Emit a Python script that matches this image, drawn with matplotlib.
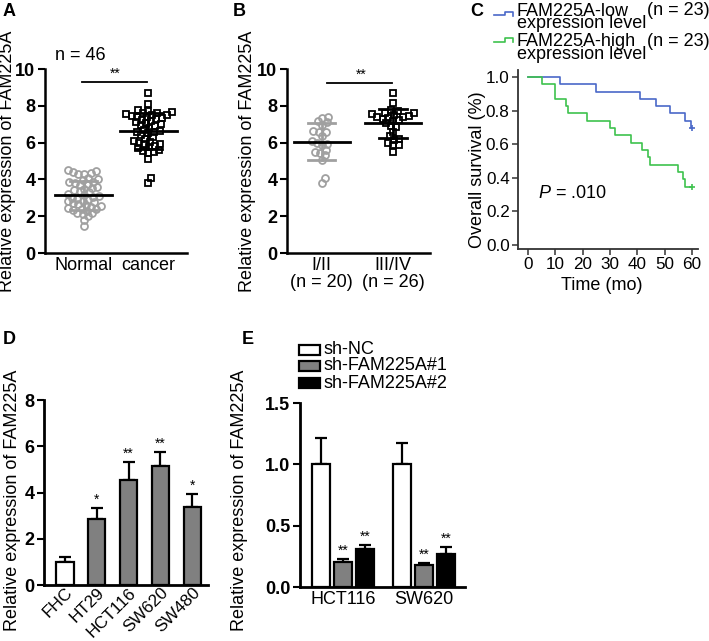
import numpy as np
import matplotlib
matplotlib.use('Agg')
import matplotlib.pyplot as plt
from matplotlib.lines import Line2D
from matplotlib.patches import Rectangle

plt.rcParams['font.family'] = ['Liberation Sans', 'DejaVu Sans']
plt.rcParams['mathtext.fontset'] = 'custom'
plt.rcParams['mathtext.it'] = 'Liberation Sans:italic'
plt.rcParams['mathtext.rm'] = 'Liberation Sans'

# ---- data ----
# A: tissue expression (n = 46 each)
normal_vals = [4.5, 4.48, 4.4, 4.35, 4.3, 4.28, 4.1, 4.0, 3.95, 3.85, 3.85, 3.8,
               3.75, 3.7, 3.6, 3.55, 3.5, 3.4, 3.35, 3.3, 3.2, 3.15, 3.1, 3.05,
               3.0, 2.95, 2.9, 2.85, 2.8, 2.75, 2.7, 2.65, 2.6, 2.55, 2.5, 2.45,
               2.4, 2.4, 2.35, 2.3, 2.2, 2.15, 2.1, 2.0, 1.8, 1.45]
cancer_vals = [8.7, 8.1, 7.75, 7.7, 7.65, 7.6, 7.6, 7.55, 7.5, 7.5, 7.45, 7.4,
               7.4, 7.35, 7.3, 7.25, 7.2, 7.1, 7.05, 7.0, 6.95, 6.9, 6.8, 6.7,
               6.65, 6.6, 6.6, 6.5, 6.4, 6.3, 6.2, 6.1, 6.05, 6.0, 5.95, 5.9,
               5.8, 5.75, 5.7, 5.6, 5.55, 5.5, 5.45, 5.1, 4.05, 3.8]
a_labels = ['Normal', 'cancer']

# B: by TNM stage
stage12_vals = [7.4, 7.35, 7.15, 7.1, 6.95, 6.65, 6.6, 6.55, 6.35, 6.1, 6.0, 5.95,
                5.85, 5.6, 5.5, 5.45, 5.3, 5.05, 4.05, 3.8]
stage34_vals = [8.7, 8.15, 7.75, 7.7, 7.6, 7.6, 7.55, 7.5, 7.45, 7.4, 7.4, 7.35,
                7.3, 7.25, 7.2, 7.05, 6.9, 6.85, 6.6, 6.35, 6.2, 6.15, 6.0, 5.85,
                5.85, 5.5]
b_labels = ['I/II\n(n = 20)', 'III/IV\n(n = 26)']

# C: Kaplan-Meier steps
low_t = [0, 11.8, 24.9, 40.9, 47, 51.8, 57.5, 59.6, 60]
low_s = [1.0, 0.957, 0.913, 0.870, 0.826, 0.783, 0.739, 0.696, 0.696]
high_t = [0, 5.1, 10, 14, 14.6, 21.6, 30, 31.7, 37.8, 41.7, 43.8, 44.5, 54.8,
          56.6, 57.3, 60]
high_s = [1.0, 0.957, 0.870, 0.826, 0.783, 0.739, 0.696, 0.652, 0.609, 0.565,
          0.522, 0.478, 0.435, 0.391, 0.348, 0.348]
c_legend = ['FAM225A-low\nexpression level', 'FAM225A-high\nexpression level']

# D: cell lines
d_cells = ['FHC', 'HT29', 'HCT116', 'SW620', 'SW480']
d_vals = [1.0, 2.86, 4.55, 5.13, 3.37]
d_err = [0.19, 0.46, 0.77, 0.62, 0.56]
d_sig = ['', '*', '**', '**', '*']

# E: knockdown
e_cells = ['HCT116', 'SW620']
e_groups = ['sh-NC', 'sh-FAM225A#1', 'sh-FAM225A#2']
e_vals = [[1.0, 1.0], [0.2, 0.177], [0.307, 0.272]]
e_err = [[0.215, 0.17], [0.028, 0.021], [0.035, 0.054]]
e_sig = [['', ''], ['**', '**'], ['**', '**']]
e_colors = ['white', '#808080', 'black']

W, H = 709, 641
FS = 13
TFS = 13


def rect(l, t, r, b):
    return [l / W, 1 - b / H, (r - l) / W, (b - t) / H]


def swarm(vals, ppu_y, ppu_x, d):
    # beeswarm offsets, worked out in pixels
    vals = np.asarray(vals, dtype=float)
    ys = vals * ppu_y
    xs = np.zeros(len(vals))
    done = []
    for i in np.argsort(vals):
        y = ys[i]
        cands = [0.0]
        for j in done:
            dy = y - ys[j]
            if abs(dy) < d:
                dx = np.sqrt(d * d - dy * dy)
                cands += [xs[j] + dx, xs[j] - dx]
        cands.sort(key=abs)
        for c in cands:
            if all((c - xs[j]) ** 2 + (y - ys[j]) ** 2 >= d * d - 1e-6 for j in done):
                xs[i] = c
                break
        done.append(i)
    return xs / ppu_x


def prism_axes(ax, lw=1.8):
    for s in ['top', 'right']:
        ax.spines[s].set_visible(False)
    for s in ['left', 'bottom']:
        ax.spines[s].set_linewidth(lw)
    ax.tick_params(axis='y', direction='out', length=5, width=1.5, labelsize=TFS, pad=2)
    ax.tick_params(axis='x', length=0, labelsize=FS, pad=3)
    for t in ax.get_yticklabels():
        t.set_fontweight('bold')


def dot_group(ax, x0, vals, color, marker, ppu_y, ppu_x, mean_w, cap_w, sd_color):
    off = swarm(vals, ppu_y, ppu_x, 5.6)
    ax.plot(x0 + off, vals, ls='none', marker=marker, ms=5, mfc='none', mec=color,
            mew=1.3, zorder=3, clip_on=False)
    m = np.mean(vals)
    s = np.std(vals, ddof=1)
    ax.plot([x0, x0], [m - s, m + s], color=sd_color, lw=2, zorder=4)
    ax.plot([x0 - cap_w / 2, x0 + cap_w / 2], [m - s, m - s], color=sd_color, lw=2, zorder=4)
    ax.plot([x0 - cap_w / 2, x0 + cap_w / 2], [m + s, m + s], color=sd_color, lw=2, zorder=4)
    ax.plot([x0 - mean_w / 2, x0 + mean_w / 2], [m, m], color='black', lw=2, zorder=5)


fig = plt.figure(figsize=(W / 100, H / 100), dpi=100)

# ---- A ----
axA = fig.add_axes(rect(45, 69, 187, 253))
axA.set_xlim(-0.6, 1.6)
axA.set_ylim(0, 10)
ppy = 184 / 10
ppx = 142 / 2.2
dot_group(axA, 0, normal_vals, '#a0a0a0', 'o', ppy, ppx, 0.88, 0.42, '#a0a0a0')
dot_group(axA, 1, cancer_vals, 'black', 's', ppy, ppx, 0.88, 0.42, 'black')
axA.plot([-0.02, 0.98], [9.3, 9.3], color='black', lw=1.3)
axA.text(0.48, 9.35, '**', ha='center', va='bottom', fontsize=10)
axA.set_yticks([0, 2, 4, 6, 8, 10])
axA.set_xticks([0, 1])
axA.set_xticklabels(a_labels)
prism_axes(axA)

# ---- B ----
axB = fig.add_axes(rect(287, 69, 430, 253))
axB.set_xlim(-0.49, 1.52)
axB.set_ylim(0, 10)
ppx = 143 / 2.01
dot_group(axB, 0, stage12_vals, '#a0a0a0', 'o', ppy, ppx, 0.79, 0.38, '#a0a0a0')
dot_group(axB, 1, stage34_vals, 'black', 's', ppy, ppx, 0.79, 0.38, 'black')
axB.plot([0.07, 0.99], [9.24, 9.24], color='black', lw=1.3)
axB.text(0.56, 9.29, '**', ha='center', va='bottom', fontsize=10)
axB.set_yticks([0, 2, 4, 6, 8, 10])
axB.set_xticks([0, 1])
axB.set_xticklabels(b_labels, linespacing=1.0)
prism_axes(axB)

# ---- C ----
axC = fig.add_axes(rect(518, 70, 698, 249))
axC.set_xlim(-3.66, 62.2)
axC.set_ylim(-0.024, 1.042)
axC.step(low_t, low_s, where='post', color='#4a68c8', lw=1.2)
axC.step(high_t, high_s, where='post', color='#3ec24e', lw=1.2)
axC.plot(low_t[-1], low_s[-1], marker='+', color='#4a68c8', ms=5, mew=1.2)
axC.plot(high_t[-1], high_s[-1], marker='+', color='#3ec24e', ms=5, mew=1.2)
for s in ['top', 'right']:
    axC.spines[s].set_visible(False)
for s in ['left', 'bottom']:
    axC.spines[s].set_linewidth(1.3)
    axC.spines[s].set_color('#333333')
axC.set_xticks(range(0, 61, 10))
axC.set_yticks([0, 0.2, 0.4, 0.6, 0.8, 1.0])
axC.set_yticklabels(['0.0', '0.2', '0.4', '0.6', '0.8', '1.0'])
axC.tick_params(direction='out', length=4, width=1.1, color='#333333', labelsize=12.3, pad=2)

# ---- D ----
axD = fig.add_axes(rect(44, 400, 208, 585))
xd = np.arange(len(d_cells))
axD.bar(xd, d_vals, width=0.54, color=['white'] + ['#808080'] * 4,
        edgecolor='black', linewidth=1.6, zorder=3)
axD.errorbar(xd, d_vals, yerr=[np.zeros(len(xd)), d_err], fmt='none', ecolor='black',
             elinewidth=1.6, capsize=4, capthick=1.6, zorder=2)
for x, v, e, sg in zip(xd, d_vals, d_err, d_sig):
    if sg:
        axD.annotate(sg, (x, v + e), xytext=(0, 1), textcoords='offset points',
                     ha='center', va='bottom', fontsize=10)
axD.set_xlim(-0.66, 4.5)
axD.set_ylim(0, 8)
axD.set_yticks([0, 2, 4, 6, 8])
axD.set_xticks(xd)
axD.set_xticklabels(d_cells, rotation=45, ha='right', rotation_mode='anchor')
prism_axes(axD, 2)
axD.tick_params(axis='x', pad=0, labelsize=12.3)

# ---- E ----
axE = fig.add_axes(rect(300, 403, 465, 587))
xe = np.arange(len(e_cells))
offs = [-0.27, 0, 0.27]
for k in range(3):
    axE.bar(xe + offs[k], e_vals[k], width=0.22, color=e_colors[k],
            edgecolor='black', linewidth=1.6, zorder=3)
    axE.errorbar(xe + offs[k], e_vals[k], yerr=[np.zeros(len(xe)), e_err[k]], fmt='none',
                 ecolor='black', elinewidth=1.6, capsize=4, capthick=1.6, zorder=2)
    for x, v, e, sg in zip(xe + offs[k], e_vals[k], e_err[k], e_sig[k]):
        if sg:
            axE.annotate(sg, (x, v + e), xytext=(0, 1), textcoords='offset points',
                         ha='center', va='bottom', fontsize=10)
axE.set_xlim(-0.53, 1.506)
axE.set_ylim(0, 1.5)
axE.set_yticks([0, 0.5, 1.0, 1.5])
axE.set_yticklabels(['0.0', '0.5', '1.0', '1.5'])
axE.set_xticks(xe)
axE.set_xticklabels(e_cells)
prism_axes(axE, 2)

# ---- overlay for labels ----
ov = fig.add_axes([0, 0, 1, 1])
ov.set_xlim(0, W)
ov.set_ylim(H, 0)
ov.axis('off')

ylab = 'Relative expression of FAM225A'
for x, y in [(8, 161), (248, 161), (13, 500), (240, 500)]:
    ov.text(x, y, ylab, rotation=90, ha='center', va='center', fontsize=FS)
ov.text(477, 170, 'Overall survival (%)', rotation=90, ha='center', va='center', fontsize=FS)
ov.text(602, 285, 'Time (mo)', ha='center', va='center', fontsize=FS)
ov.text(80, 56, 'n = 46', ha='center', va='center', fontsize=FS)
ov.text(538, 193, r'$\it{P}$ = .010', ha='left', va='center', fontsize=FS)

for lab, x, y in [('A', 9, 12), ('B', 239, 12), ('C', 477, 12), ('D', 9, 339), ('E', 248, 339)]:
    ov.text(x, y, lab, ha='center', va='center', fontsize=13, fontweight='bold')

# C legend
ov.add_line(Line2D([494, 505, 505, 513, 513], [15, 15, 11.5, 11.5, 16], color='#4a68c8', lw=1.2))
ov.add_line(Line2D([494, 505, 505, 513, 513], [41.5, 41.5, 37.5, 37.5, 42], color='#3ec24e', lw=1.2))
ov.text(517, 28.5, c_legend[0], ha='left', va='baseline', fontsize=FS, linespacing=0.68)
ov.text(517, 59, c_legend[1], ha='left', va='baseline', fontsize=FS, linespacing=0.68)
ov.text(647, 15, '(n = 23)', ha='left', va='baseline', fontsize=FS)
ov.text(647, 46, '(n = 23)', ha='left', va='baseline', fontsize=FS)

# E legend
for k, (yc, g) in enumerate(zip([350, 366, 383], e_groups)):
    ov.add_patch(Rectangle((299, yc - 5), 21, 10, facecolor=e_colors[k],
                           edgecolor='black', lw=1.6))
    ov.text(324, yc, g, ha='left', va='center', fontsize=FS)

fig.savefig('out.png', dpi=100)
